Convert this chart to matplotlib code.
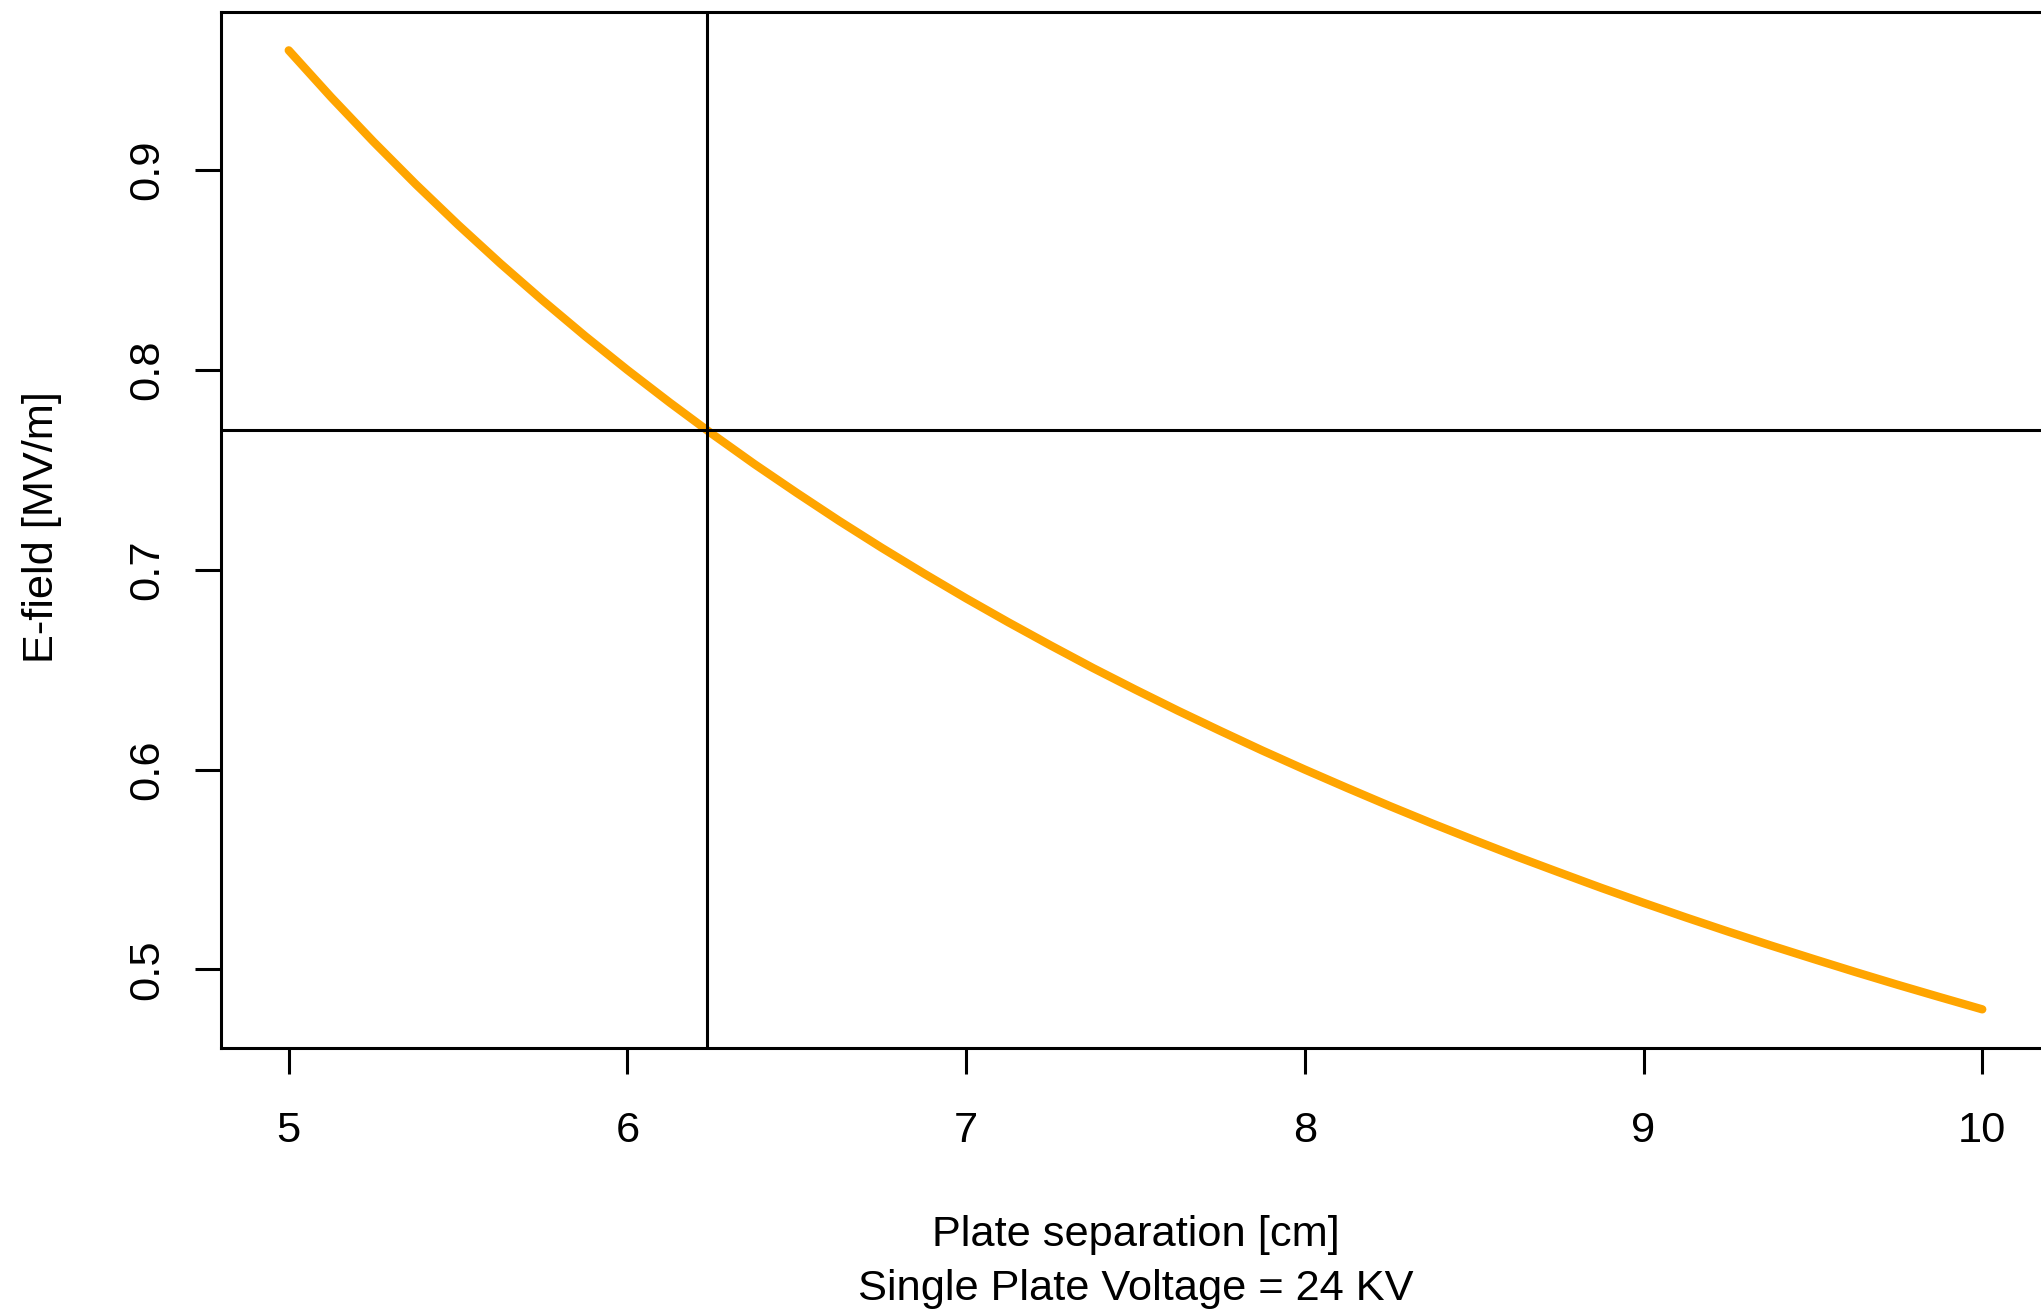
import matplotlib
matplotlib.use("Agg")
import matplotlib.pyplot as plt

plt.rcParams['font.family'] = ['Liberation Sans', 'DejaVu Sans']

separation_cm = [5.000, 5.125, 5.250, 5.375, 5.500, 5.625, 5.750, 5.875,
                 6.000, 6.125, 6.250, 6.375, 6.500, 6.625, 6.750, 6.875,
                 7.000, 7.125, 7.250, 7.375, 7.500, 7.625, 7.750, 7.875,
                 8.000, 8.125, 8.250, 8.375, 8.500, 8.625, 8.750, 8.875,
                 9.000, 9.125, 9.250, 9.375, 9.500, 9.625, 9.750, 9.875,
                 10.000]
efield_mvm = [0.9600, 0.9366, 0.9143, 0.8930, 0.8727, 0.8533, 0.8348, 0.8170,
              0.8000, 0.7837, 0.7680, 0.7529, 0.7385, 0.7245, 0.7111, 0.6982,
              0.6857, 0.6737, 0.6621, 0.6508, 0.6400, 0.6295, 0.6194, 0.6095,
              0.6000, 0.5908, 0.5818, 0.5731, 0.5647, 0.5565, 0.5486, 0.5408,
              0.5333, 0.5260, 0.5189, 0.5120, 0.5053, 0.4987, 0.4923, 0.4861,
              0.4800]
ref_separation = 6.234
ref_efield = 0.77
x_ticks = [5, 6, 7, 8, 9, 10]
y_ticks = [0.5, 0.6, 0.7, 0.8, 0.9]

W, H = 2041, 1310
dpi = 200
fig = plt.figure(figsize=(W / dpi, H / dpi), dpi=dpi)
ax = fig.add_axes([221 / W, 1 - 1047.7 / H, (2050 - 221) / W, (1047.7 - 12) / H])

ax.plot(separation_cm, efield_mvm, color='#FFA500', lw=3.0,
        solid_capstyle='round', solid_joinstyle='round')
ax.axvline(ref_separation, color='black', lw=1.1)
ax.axhline(ref_efield, color='black', lw=1.1)

ax.set_xlim(4.8, 10.2)
ax.set_ylim(0.4608, 0.9792)
ax.set_xticks(x_ticks)
ax.set_xticklabels([str(t) for t in x_ticks])
ax.set_yticks(y_ticks)
ax.set_yticklabels([f"{t:.1f}" for t in y_ticks], rotation=90, va='center')
ax.tick_params(axis='both', direction='out', length=9.4, width=1.1,
               labelsize=15.6, color='black')
ax.tick_params(axis='x', pad=13.5)
ax.tick_params(axis='y', pad=10)
for s in ax.spines.values():
    s.set_linewidth(1.1)

fig.text(1135.5 / W, 1 - 1235 / H, "Plate separation [cm]", ha='center',
         va='center', fontsize=15.6)
fig.text(1135.5 / W, 1 - 1289 / H, "Single Plate Voltage = 24 KV", ha='center',
         va='center', fontsize=15.6)
fig.text(42 / W, 1 - 527 / H, "E-field [MV/m]", ha='center', va='center',
         rotation=90, fontsize=15.6)

fig.savefig("out.png", dpi=dpi)
